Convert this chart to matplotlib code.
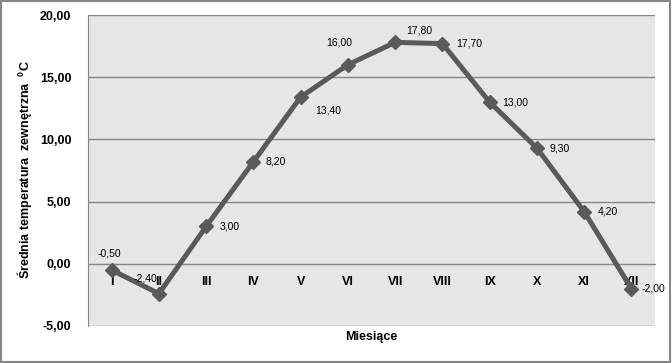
import matplotlib.pyplot as plt
from matplotlib.patches import Rectangle

plt.rcParams['font.family'] = ['Liberation Sans', 'DejaVu Sans']
plt.rcParams['mathtext.fontset'] = 'custom'
plt.rcParams['mathtext.rm'] = 'Liberation Sans'
plt.rcParams['mathtext.bf'] = 'Liberation Sans:bold'

months = ["I", "II", "III", "IV", "V", "VI", "VII", "VIII", "IX", "X", "XI", "XII"]
temps = [-0.5, -2.4, 3.0, 8.2, 13.4, 16.0, 17.8, 17.7, 13.0, 9.3, 4.2, -2.0]
y_ticks = [-5, 0, 5, 10, 15, 20]

# label offsets in pixels (dx, dy, horizontal alignment)
label_pos = [(-2, 17, 'center'), (-13, 15, 'center'), (14, 0, 'left'), (12, 0, 'left'),
             (15, -13, 'left'), (-9, 22, 'center'), (24, 12, 'center'), (14, 0, 'left'),
             (13, 0, 'left'), (13, 0, 'left'), (14, 0, 'left'), (10, 0, 'left')]

fig = plt.figure(figsize=(6.72, 3.63), dpi=100)
ax = fig.add_axes([88/672, 1 - 326/363, (655 - 88)/672, (326 - 15)/363])
ax.set_facecolor('#E6E6E6')

# spines first, moving the bottom one resets the tick labels
ax.spines['bottom'].set_position(('data', 0))
ax.spines['bottom'].set_color('#868686')
ax.spines['top'].set_visible(False)
ax.spines['right'].set_visible(False)
ax.spines['left'].set_color('#868686')

x = list(range(len(months)))
ax.plot(x, temps, color='#5A5A5A', lw=3.6, marker='D', markersize=7, zorder=3)

for i, v in enumerate(temps):
    dx, dy, ha = label_pos[i]
    ax.annotate(f"{v:.2f}".replace('.', ','), (i, v), xytext=(dx, dy), textcoords='offset pixels',
                ha=ha, va='center', fontsize=7.5, color='black', zorder=4)

ax.set_xlim(-0.5, 11.5)
ax.set_ylim(-5, 20)
ax.set_yticks(y_ticks)
ax.set_yticklabels([f"{t:.2f}".replace('.', ',') for t in y_ticks], fontsize=9, fontweight='bold')
ax.set_xticks(x)
ax.set_xticklabels(months, fontsize=9, fontweight='bold')
ax.tick_params(axis='both', length=0)
ax.tick_params(axis='x', pad=9)
ax.tick_params(axis='y', pad=12)
ax.yaxis.grid(True, color='#868686', lw=1)
ax.set_axisbelow(True)

fig.text(371/672, 1 - 337/363, "Miesiące", ha='center', va='center', fontsize=9, fontweight='bold')
fig.text(25/672, 1 - 170/363, "Średnia temperatura  zewnętrzna  $^\\mathbf{0}$C", rotation=90,
         ha='center', va='center', fontsize=9, fontweight='bold')

fig.patches.append(Rectangle((1/672, 1/363), 669/672, 361/363, transform=fig.transFigure,
                             fill=False, edgecolor='#868686', lw=1.5))

fig.savefig("out.png", dpi=100)
